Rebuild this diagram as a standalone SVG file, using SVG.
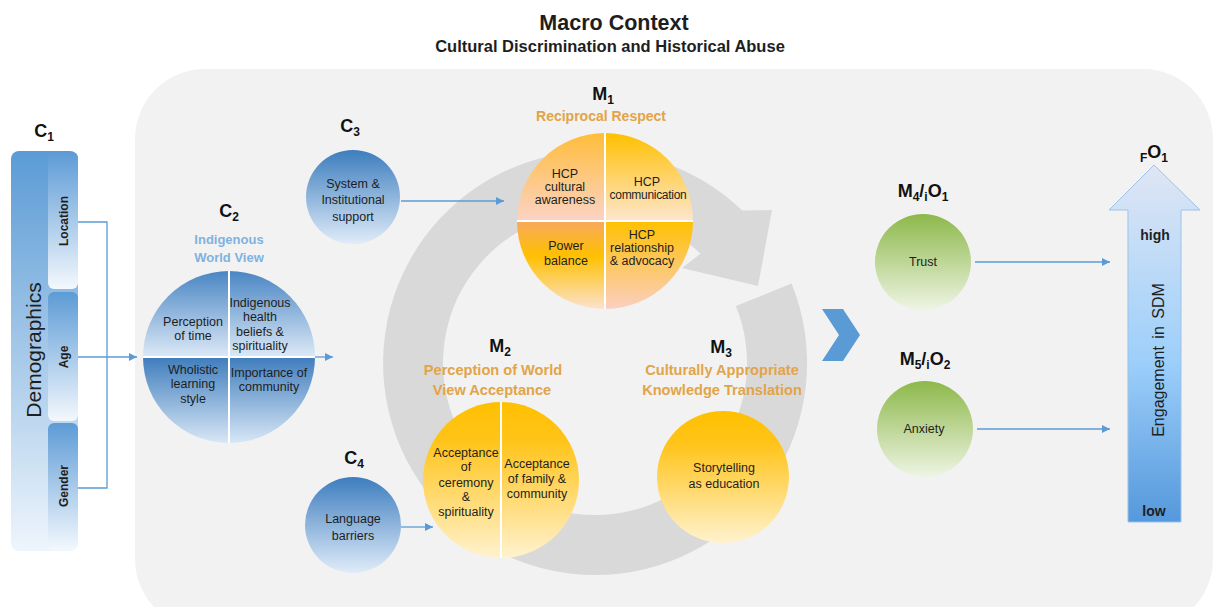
<svg xmlns="http://www.w3.org/2000/svg" width="1213" height="607" viewBox="0 0 1213 607">
<style>
text{font-family:"Liberation Sans",Arial,sans-serif;fill:#1e1e1e}
.t{font-size:12.5px;text-anchor:middle}
.lbl{font-size:18px;font-weight:bold;text-anchor:middle;fill:#111}
.sub{font-size:12px}
.or{font-size:14.6px;font-weight:bold;text-anchor:middle;fill:#e2a448}
.bl{font-size:13px;font-weight:bold;text-anchor:middle;fill:#7fb2e0}
.tab{font-size:12px;font-weight:bold;text-anchor:middle}
.div{stroke:#fff;stroke-width:2}
.con{fill:none;stroke:#5b9bd5;stroke-width:1.3}
</style>
<defs>
  <linearGradient id="gDemo" x1="0" y1="0" x2="0" y2="1"><stop offset="0" stop-color="#5b9bd5"/><stop offset="1" stop-color="#eef5fc"/></linearGradient>
  <linearGradient id="gTab" x1="0" y1="0" x2="0" y2="1"><stop offset="0" stop-color="#5d9bd6"/><stop offset="1" stop-color="#f3f8fd"/></linearGradient>
  <linearGradient id="gBlueTop" x1="0" y1="0" x2="0" y2="1"><stop offset="0" stop-color="#4a86c4"/><stop offset="1" stop-color="#dce9f6"/></linearGradient>
  <linearGradient id="gBlueBot" x1="0" y1="0" x2="0" y2="1"><stop offset="0" stop-color="#3f7dbd"/><stop offset="1" stop-color="#d8e7f6"/></linearGradient>
  <linearGradient id="gBlueCirc" x1="0" y1="0" x2="0" y2="1"><stop offset="0" stop-color="#3d7dbe"/><stop offset="1" stop-color="#e0ecf9"/></linearGradient>
  <linearGradient id="gTL" x1="0" y1="0" x2="0" y2="1"><stop offset="0" stop-color="#ffbd3a"/><stop offset="1" stop-color="#fbd3c6"/></linearGradient>
  <linearGradient id="gTR" x1="0" y1="0" x2="0" y2="1"><stop offset="0" stop-color="#ffc000"/><stop offset="1" stop-color="#fde6cf"/></linearGradient>
  <linearGradient id="gBL" x1="0" y1="0" x2="0" y2="1"><stop offset="0" stop-color="#f7a95e"/><stop offset="0.4" stop-color="#ffc000"/><stop offset="1" stop-color="#fbe2d0"/></linearGradient>
  <linearGradient id="gBR" x1="0" y1="0" x2="0" y2="1"><stop offset="0" stop-color="#ffc000"/><stop offset="1" stop-color="#fbcfc2"/></linearGradient>
  <linearGradient id="gYel" x1="0" y1="0" x2="0" y2="1"><stop offset="0" stop-color="#ffc000"/><stop offset="0.25" stop-color="#ffc41a"/><stop offset="1" stop-color="#fff2cf"/></linearGradient>
  <linearGradient id="gGreen" x1="0" y1="0" x2="0" y2="1"><stop offset="0" stop-color="#8db84a"/><stop offset="1" stop-color="#eef5e4"/></linearGradient>
  <linearGradient id="gEng" x1="0" y1="0" x2="0" y2="1"><stop offset="0" stop-color="#dfe6f4"/><stop offset="0.55" stop-color="#9dcffa"/><stop offset="1" stop-color="#5598dc"/></linearGradient>
  <marker id="ah" viewBox="0 0 10 10" refX="10" refY="5" markerWidth="9" markerHeight="8" markerUnits="userSpaceOnUse" orient="auto"><path d="M0,0 L10,5 L0,10 Z" fill="#5b9bd5"/></marker>
</defs>

<rect width="1213" height="607" fill="#ffffff"/>
<!-- context panel -->
<rect x="135" y="69" width="1078" height="560" rx="70" fill="#f2f2f2"/>

<g id="title">
  <text x="614" y="30" font-size="21.5" font-weight="bold" text-anchor="middle" fill="#111">Macro Context</text>
  <text x="610" y="52" font-size="16.5" font-weight="bold" text-anchor="middle" fill="#111">Cultural Discrimination and Historical Abuse</text>
</g>

<!-- cycle arrow -->
<g id="cycle">
  <path d="M791.6,283.5 A212,212 0 1 1 742.3,210.5 L772,210 L758,286 L682,268 L700.6,253.7 A152,152 0 1 0 735.9,306 Z" fill="#d9d9d9"/>
  <polygon points="822,309 843,309 860,335 843,361 822,361 839,335" fill="#5b9bd5"/>
</g>

<g id="connectors">
  <polyline class="con" points="78,222 107,222 107,488 78,488"/>
  <line class="con" x1="78" y1="357" x2="137" y2="357" marker-end="url(#ah)"/>
  <line class="con" x1="315" y1="357" x2="333" y2="357" marker-end="url(#ah)"/>
  <line class="con" x1="401" y1="201" x2="504" y2="201" marker-end="url(#ah)"/>
  <line class="con" x1="401" y1="527" x2="433" y2="527" marker-end="url(#ah)"/>
  <line class="con" x1="975" y1="262" x2="1110" y2="262" marker-end="url(#ah)"/>
  <line class="con" x1="977" y1="429" x2="1110" y2="429" marker-end="url(#ah)"/>
</g>

<g id="C1">
  <text class="lbl" x="44" y="137">C<tspan class="sub" dy="4">1</tspan></text>
  <rect x="11" y="151" width="67" height="400" rx="8" fill="url(#gDemo)"/>
  <rect x="48" y="152" width="30" height="137" rx="6" fill="url(#gTab)"/>
  <rect x="48" y="292" width="30" height="129" rx="6" fill="url(#gTab)"/>
  <rect x="48" y="423" width="30" height="127" rx="6" fill="url(#gTab)"/>
  <text transform="translate(41,350) rotate(-90)" font-size="21" text-anchor="middle" fill="#263646">Demographics</text>
  <text class="tab" transform="translate(68,221) rotate(-90)">Location</text>
  <text class="tab" transform="translate(68,357) rotate(-90)">Age</text>
  <text class="tab" transform="translate(68,486) rotate(-90)">Gender</text>
</g>

<g id="C2">
  <text class="lbl" x="229" y="217">C<tspan class="sub" dy="4">2</tspan></text>
  <text class="bl" x="229" y="244">Indigenous</text>
  <text class="bl" x="229" y="262">World View</text>
  <path d="M143,357 A86,86 0 0 1 315,357 Z" fill="url(#gBlueTop)"/>
  <path d="M143,357 A86,86 0 0 0 315,357 Z" fill="url(#gBlueBot)"/>
  <line class="div" x1="229" y1="271" x2="229" y2="443"/>
  <line class="div" x1="143" y1="357" x2="315" y2="357"/>
  <text class="t" x="193" y="326">Perception</text>
  <text class="t" x="193" y="340">of time</text>
  <text class="t" x="260" y="307">Indigenous</text>
  <text class="t" x="260" y="321">health</text>
  <text class="t" x="260" y="336">beliefs &amp;</text>
  <text class="t" x="260" y="350">spirituality</text>
  <text class="t" x="193" y="374">Wholistic</text>
  <text class="t" x="193" y="388">learning</text>
  <text class="t" x="193" y="403">style</text>
  <text class="t" x="269" y="377">Importance of</text>
  <text class="t" x="269" y="391">community</text>
</g>

<g id="C3">
  <text class="lbl" x="350" y="132">C<tspan class="sub" dy="4">3</tspan></text>
  <circle cx="353" cy="197" r="47" fill="url(#gBlueCirc)"/>
  <text class="t" x="353" y="188">System &amp;</text>
  <text class="t" x="353" y="204">Institutional</text>
  <text class="t" x="353" y="221">support</text>
</g>

<g id="M1">
  <text class="lbl" x="603" y="100">M<tspan class="sub" dy="4">1</tspan></text>
  <text class="or" x="601" y="121" style="font-size:14px">Reciprocal Respect</text>
  <path d="M605,221 L517,221 A88,88 0 0 1 605,133 Z" fill="url(#gTL)"/>
  <path d="M605,221 L605,133 A88,88 0 0 1 693,221 Z" fill="url(#gTR)"/>
  <path d="M605,221 L693,221 A88,88 0 0 1 605,309 Z" fill="url(#gBR)"/>
  <path d="M605,221 L605,309 A88,88 0 0 1 517,221 Z" fill="url(#gBL)"/>
  <line class="div" x1="605" y1="133" x2="605" y2="309"/>
  <line class="div" x1="517" y1="221" x2="693" y2="221"/>
  <text class="t" x="565" y="178">HCP</text>
  <text class="t" x="565" y="191">cultural</text>
  <text class="t" x="565" y="204">awareness</text>
  <text class="t" x="647" y="186">HCP</text>
  <text class="t" x="648" y="199" style="font-size:12px;letter-spacing:-0.3px">communication</text>
  <text class="t" x="566" y="250">Power</text>
  <text class="t" x="566" y="265">balance</text>
  <text class="t" x="642" y="239">HCP</text>
  <text class="t" x="642" y="252">relationship</text>
  <text class="t" x="642" y="265">&amp; advocacy</text>
</g>

<g id="M2">
  <text class="lbl" x="500" y="352">M<tspan class="sub" dy="4">2</tspan></text>
  <text class="or" x="493" y="375">Perception of World</text>
  <text class="or" x="492" y="395">View Acceptance</text>
  <path d="M501,402 A78,78 0 0 0 501,558 Z" fill="url(#gYel)"/>
  <path d="M501,402 A78,78 0 0 1 501,558 Z" fill="url(#gYel)"/>
  <line class="div" x1="501" y1="402" x2="501" y2="558"/>
  <text class="t" x="466" y="457">Acceptance</text>
  <text class="t" x="466" y="471">of</text>
  <text class="t" x="466" y="487">ceremony</text>
  <text class="t" x="466" y="501">&amp;</text>
  <text class="t" x="466" y="516">spirituality</text>
  <text class="t" x="537" y="468">Acceptance</text>
  <text class="t" x="537" y="483">of family &amp;</text>
  <text class="t" x="537" y="498">community</text>
</g>

<g id="M3">
  <text class="lbl" x="721" y="353">M<tspan class="sub" dy="4">3</tspan></text>
  <text class="or" x="722" y="375">Culturally Appropriate</text>
  <text class="or" x="722" y="395">Knowledge Translation</text>
  <circle cx="723" cy="477" r="66" fill="url(#gYel)"/>
  <text class="t" x="724" y="472">Storytelling</text>
  <text class="t" x="724" y="488">as education</text>
</g>

<g id="C4">
  <text class="lbl" x="354" y="464">C<tspan class="sub" dy="4">4</tspan></text>
  <circle cx="353" cy="525" r="48" fill="url(#gBlueCirc)"/>
  <text class="t" x="353" y="523">Language</text>
  <text class="t" x="353" y="540">barriers</text>
</g>

<g id="M4">
  <text class="lbl" x="923" y="197">M<tspan class="sub" dy="4">4</tspan><tspan dy="-4">/</tspan><tspan class="sub" dy="4">i</tspan><tspan dy="-4">O</tspan><tspan class="sub" dy="4">1</tspan></text>
  <circle cx="923" cy="262" r="48" fill="url(#gGreen)"/>
  <text class="t" x="923" y="266">Trust</text>
</g>

<g id="M5">
  <text class="lbl" x="925" y="365">M<tspan class="sub" dy="4">5</tspan><tspan dy="-4">/</tspan><tspan class="sub" dy="4">i</tspan><tspan dy="-4">O</tspan><tspan class="sub" dy="4">2</tspan></text>
  <circle cx="925" cy="429" r="48" fill="url(#gGreen)"/>
  <text class="t" x="924" y="433">Anxiety</text>
</g>

<g id="FO1">
  <text class="lbl" x="1154" y="158"><tspan class="sub" dy="4">F</tspan><tspan dy="-4">O</tspan><tspan class="sub" dy="4">1</tspan></text>
  <polygon points="1154,165 1200,210 1181,210 1181,522 1128,522 1128,210 1109,210" fill="url(#gEng)" stroke="#9dc3e6" stroke-width="1"/>
  <text x="1155" y="240" font-size="14" font-weight="bold" text-anchor="middle">high</text>
  <text x="1154" y="516" font-size="14" font-weight="bold" text-anchor="middle">low</text>
  <text transform="translate(1164,360) rotate(-90)" font-size="16" text-anchor="middle" word-spacing="3" fill="#2a2a2a">Engagement in SDM</text>
</g>
</svg>
